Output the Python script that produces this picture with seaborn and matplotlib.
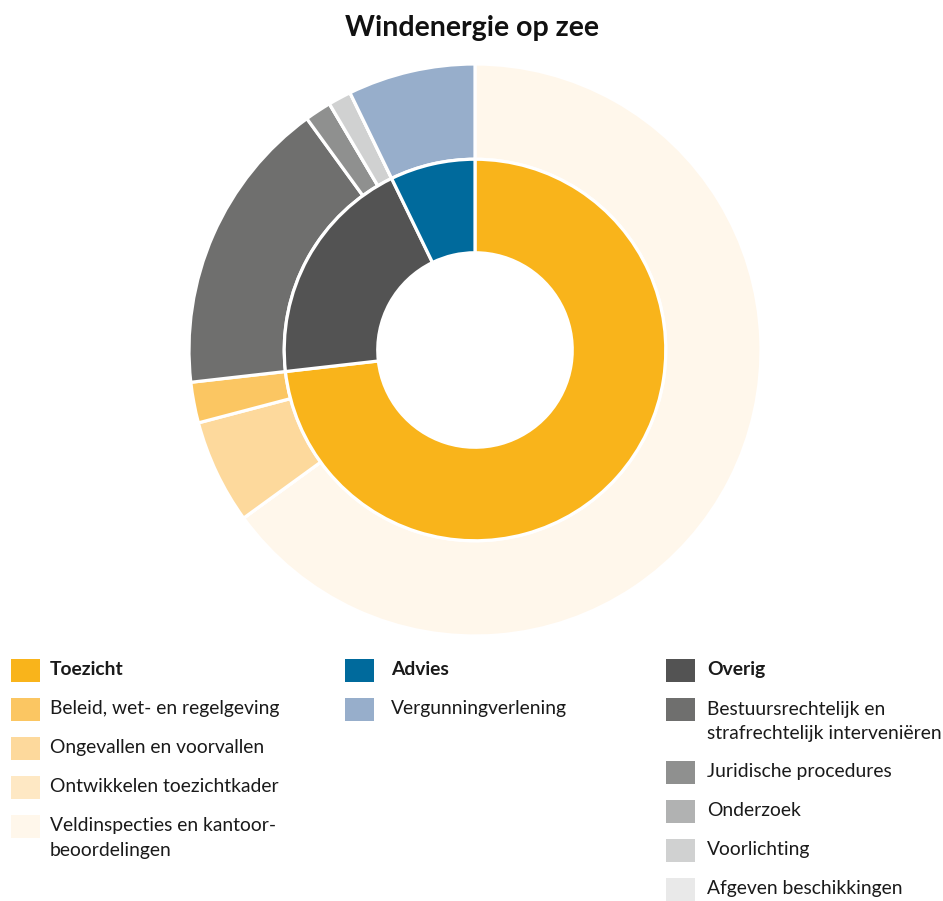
import matplotlib
matplotlib.use("Agg")
import matplotlib.pyplot as plt
from matplotlib.patches import Rectangle
import seaborn as sns

# DATA (percent of total)
inner_labels = ["Toezicht", "Overig", "Advies"]
inner_values = [73.2, 19.6, 7.2]
inner_colors = ["#f9b41b", "#535353", "#006a9c"]

outer_labels = [
    "Veldinspecties en kantoor-\nbeoordelingen",
    "Ontwikkelen toezichtkader",
    "Ongevallen en voorvallen",
    "Beleid, wet- en regelgeving",
    "Bestuursrechtelijk en\nstrafrechtelijk interveniëren",
    "Juridische procedures",
    "Onderzoek",
    "Voorlichting",
    "Afgeven beschikkingen",
    "Vergunningverlening",
]
outer_values = [65.0, 0.0, 5.9, 2.3, 16.8, 1.5, 0.0, 1.3, 0.0, 7.2]
outer_colors = ["#fff7eb", "#fee8c4", "#fdd99c", "#fbc662",
                "#6f6f6e", "#8f908f", "#b1b2b2", "#d0d1d1", "#e9e9e9",
                "#97aecb"]

# legend columns: group header + its sub categories (top to bottom)
legend_cols = [
    ("Toezicht", ["Beleid, wet- en regelgeving", "Ongevallen en voorvallen",
                  "Ontwikkelen toezichtkader",
                  "Veldinspecties en kantoor-\nbeoordelingen"]),
    ("Advies", ["Vergunningverlening"]),
    ("Overig", ["Bestuursrechtelijk en\nstrafrechtelijk interveniëren",
                "Juridische procedures", "Onderzoek", "Voorlichting",
                "Afgeven beschikkingen"]),
]

sns.set_theme(style="white")
plt.rcParams["font.family"] = ["Lato", "DejaVu Sans"]

W, H = 943, 901
fig = plt.figure(figsize=(W / 100, H / 100), dpi=100)

# -------------------------
# NESTED DONUT
# -------------------------
cx, cy, R = 475, 350, 286
ax = fig.add_axes([(cx - R) / W, (H - cy - R) / H, 2 * R / W, 2 * R / H])
wedge = dict(edgecolor="white", linewidth=2.3)
ax.pie(outer_values, radius=1.0, colors=outer_colors, startangle=90,
       counterclock=False, wedgeprops=dict(width=0.333, **wedge))
ax.pie(inner_values, radius=0.667, colors=inner_colors, startangle=90,
       counterclock=False, wedgeprops=dict(width=0.327, **wedge))
ax.set_xlim(-1.0, 1.0)
ax.set_ylim(-1.0, 1.0)
ax.set_aspect("equal")
ax.axis("off")

fig.text(472 / W, 1 - 28 / H, "Windenergie op zee", ha="center", va="center",
         fontsize=20.5, fontweight="bold", color="#111111")

# -------------------------
# LEGEND (pixel coordinates overlay)
# -------------------------
lax = fig.add_axes([0, 0, 1, 1], zorder=-1)
lax.set_xlim(0, W)
lax.set_ylim(H, 0)
lax.axis("off")

color_of = dict(zip(inner_labels, inner_colors))
color_of.update(zip(outer_labels, outer_colors))

col_x = [11, 345, 666]
text_x = [50, 391, 707]
for x0, tx, (head, subs) in zip(col_x, text_x, legend_cols):
    y = 670.5
    for i, name in enumerate([head] + subs):
        lax.add_patch(Rectangle((x0, y - 11.5), 29, 23, color=color_of[name], lw=0))
        nl = name.count("\n")
        lax.text(tx, y - 9 if nl else y - 1, name,
                 va="top" if nl else "center", fontsize=13.9, color="#1a1a1a",
                 linespacing=1.55, fontweight="bold" if i == 0 else "normal")
        y += 39 + 24 * nl

fig.savefig("out.png", dpi=100)
